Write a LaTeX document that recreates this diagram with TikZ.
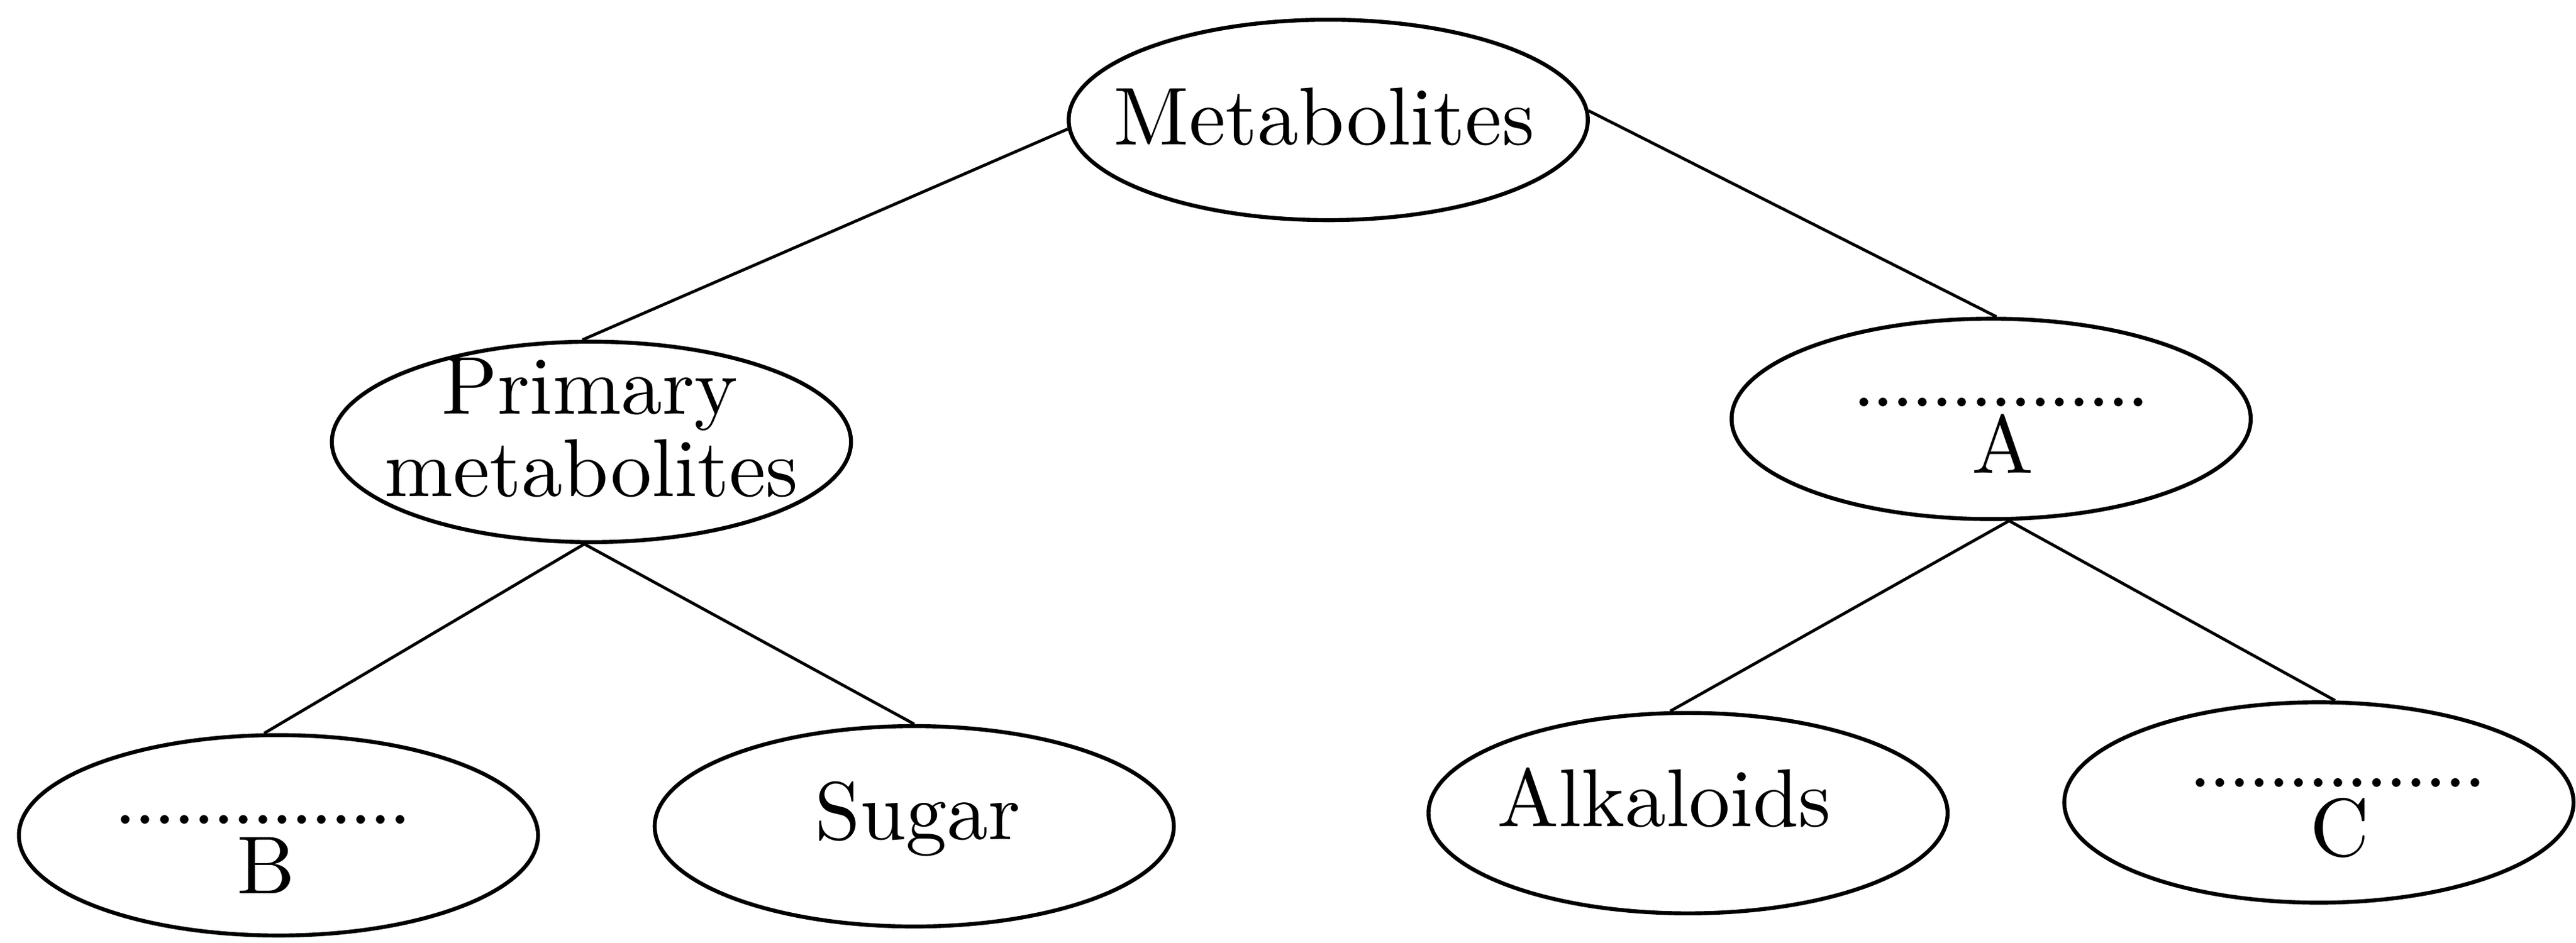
\documentclass[tikz,border=0pt]{standalone}
\usepackage{fontspec}
\setmainfont{lmroman10-regular.otf}
\usetikzlibrary{shapes.geometric}
\newcommand\dotrow{\hbox to 179pt{\cleaders\hbox to 11.93pt{\hss.\hss}\hfill}}
\begin{document}
\begin{tikzpicture}[x=1pt,y=-1pt,
  oval/.style={draw, ellipse, line width=2.4pt, inner sep=0pt, minimum width=316pt, minimum height=122pt},
  lbl/.style={font=\fontsize{50}{50}\selectfont, inner sep=0pt, anchor=base},
  conn/.style={line width=1.8pt}]
\useasboundingbox (0,0) rectangle (1568,574);
% ellipses
\node[oval] (M)   at (808.5,73)  {};
\node[oval] (P)   at (360,269)   {};
\node[oval] (A)   at (1212,255)  {};
\node[oval] (B)   at (169.5,508.5) {};
\node[oval] (S)   at (556.5,503) {};
\node[oval] (K)   at (1027.5,495) {};
\node[oval, minimum width=310pt] (C) at (1411.5,488.5) {};
% texts
\node[lbl] (tM)  at (806,88)   {Metabolites};
\node[lbl] (tP1) at (359,252)  {Primary};
\node[lbl] (tP2) at (360,302)  {metabolites};
\node[lbl] (dA)  at (1218,247.5) {\dotrow};
\node[lbl] (tA)  at (1219,288) {A};
\node[lbl] (dB)  at (160,501.5) {\dotrow};
\node[lbl] (tB)  at (162,544)  {B};
\node[lbl] (tS)  at (558.5,511) {Sugar};
\node[lbl] (tK)  at (1013,503) {Alkaloids};
\node[lbl] (dC)  at (1423,479) {\dotrow};
\node[lbl] (tC)  at (1424,521) {C};
% connectors
\draw[conn] (M.182) -- (P.95.5);
\draw[conn] (M.2) -- (A.87.6);
\draw[conn] (P.266) -- (B.98.7);
\draw[conn] (P.266) -- (S.90);
\draw[conn] (A.280) -- (K.100.5);
\draw[conn] (A.280) -- (C.81.7);
\end{tikzpicture}
\end{document}
